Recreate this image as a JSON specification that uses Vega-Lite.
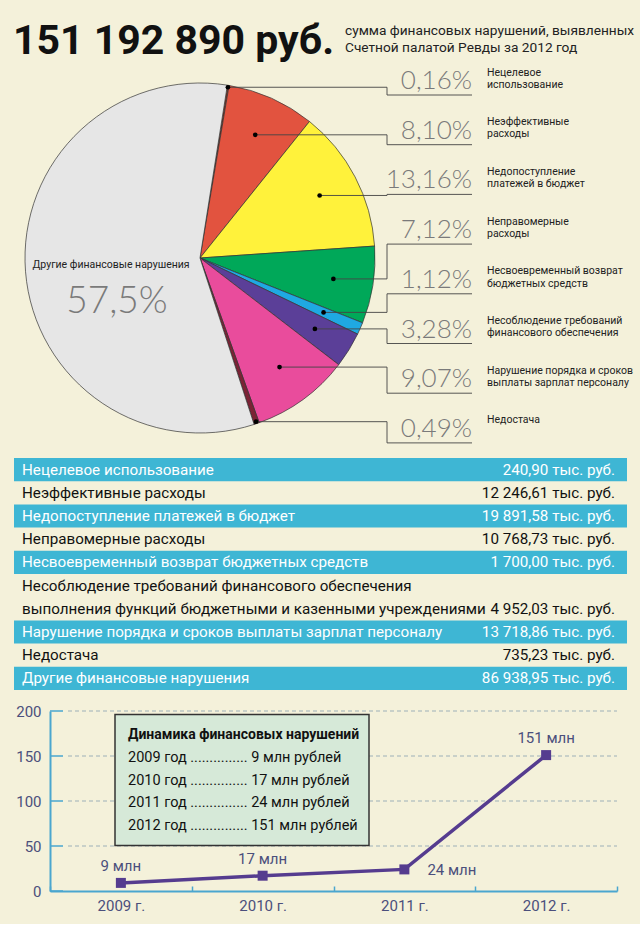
{
  "$schema": "https://vega.github.io/schema/vega-lite/v6.json",
  "background": "#f4f1da",
  "padding": {"left": 0, "top": 0, "right": 0, "bottom": 11},
  "spacing": 14,
  "config": {
    "view": {"stroke": null},
    "font": "Roboto",
    "locale": {"number": {"decimal": ",", "thousands": " ", "grouping": [3], "currency": ["", " тыс. руб."]}}
  },
  "datasets": {
    "viol": [
      {"idx": 1, "name": "Нецелевое использование", "short": "Нецелевое\nиспользование", "value": 240.90},
      {"idx": 2, "name": "Неэффективные расходы", "short": "Неэффективные\nрасходы", "value": 12246.61},
      {"idx": 3, "name": "Недопоступление платежей в бюджет", "short": "Недопоступление\nплатежей в бюджет", "value": 19891.58},
      {"idx": 4, "name": "Неправомерные расходы", "short": "Неправомерные\nрасходы", "value": 10768.73},
      {"idx": 5, "name": "Несвоевременный возврат бюджетных средств", "short": "Несвоевременный возврат\nбюджетных средств", "value": 1700.00},
      {"idx": 6, "name": "Несоблюдение требований финансового обеспечения\nвыполнения функций бюджетными и казенными учреждениями", "short": "Несоблюдение требований\nфинансового обеспечения", "value": 4952.03},
      {"idx": 7, "name": "Нарушение порядка и сроков выплаты зарплат персоналу", "short": "Нарушение порядка и сроков\nвыплаты зарплат персоналу", "value": 13718.86},
      {"idx": 8, "name": "Недостача", "short": "Недостача", "value": 735.23},
      {"idx": 9, "name": "Другие финансовые нарушения", "short": "Другие финансовые нарушения", "value": 86938.95}
    ],
    "dyn": [
      {"year": 2009, "v": 9},
      {"year": 2010, "v": 17},
      {"year": 2011, "v": 24},
      {"year": 2012, "v": 151}
    ]
  },
  "vconcat": [
    {
      "width": 640,
      "height": 444,
      "data": {"name": "viol"},
      "transform": [
        {"joinaggregate": [{"op": "sum", "field": "value", "as": "total"}]},
        {"window": [{"op": "sum", "field": "value", "as": "cum"}], "sort": [{"field": "idx"}], "frame": [null, 0]},
        {"calculate": "datum.value / datum.total", "as": "share"},
        {"calculate": "0.157 + 2 * PI * (datum.cum - datum.value / 2) / datum.total", "as": "ang"},
        {"calculate": "datum.share < 0.01 ? 173 : 135", "as": "r"},
        {"calculate": "200 + datum.r * sin(datum.ang)", "as": "dotx"},
        {"calculate": "258 - datum.r * cos(datum.ang)", "as": "doty"},
        {"calculate": "95 + (datum.idx - 1) * 49.7", "as": "ly"}
      ],
      "layer": [
        {
          "transform": [{"filter": "datum.idx == 1"}, {"calculate": "format(datum.total * 1000, ',.0f') + ' руб.'", "as": "hdr"}],
          "mark": {"type": "text", "align": "left", "baseline": "alphabetic", "font": "Roboto", "fontWeight": "bold", "fontSize": 41, "color": "#111111"},
          "encoding": {"x": {"value": 13}, "y": {"value": 54}, "text": {"field": "hdr"}}
        },
        {
          "transform": [{"filter": "datum.idx == 1"}],
          "mark": {"type": "text", "align": "left", "baseline": "alphabetic", "fontSize": 13.7, "lineHeight": 17, "color": "#222222", "text": ["сумма финансовых нарушений, выявленных", "Счетной палатой Ревды за 2012 год"]},
          "encoding": {"x": {"value": 345}, "y": {"value": 35}}
        },
        {
          "mark": {"type": "arc", "x": 200, "y": 258, "outerRadius": 175, "stroke": "#333333", "strokeWidth": 0.7},
          "encoding": {
            "theta": {"field": "value", "type": "quantitative", "stack": true, "scale": {"range": [0.157, 6.4402], "nice": false}},
            "order": {"field": "idx", "type": "quantitative"},
            "color": {"field": "idx", "type": "ordinal", "legend": null, "scale": {"domain": [1, 2, 3, 4, 5, 6, 7, 8, 9], "range": ["#8b3325", "#e2533f", "#fff23b", "#00a859", "#1fa9e2", "#5b3f98", "#e94c9c", "#7b2335", "#e6e6e6"]}}
          }
        },
        {
          "transform": [{"filter": "datum.idx <= 8"}],
          "mark": {"type": "rule", "color": "#444444", "strokeWidth": 0.9},
          "encoding": {"x": {"field": "dotx", "type": "quantitative", "scale": null}, "x2": {"value": 387}, "y": {"field": "doty", "type": "quantitative", "scale": null}}
        },
        {
          "transform": [{"filter": "datum.idx <= 8"}],
          "mark": {"type": "rule", "color": "#444444", "strokeWidth": 0.9},
          "encoding": {"x": {"value": 387}, "y": {"field": "doty", "type": "quantitative", "scale": null}, "y2": {"field": "ly"}}
        },
        {
          "transform": [{"filter": "datum.idx <= 8"}],
          "mark": {"type": "rule", "color": "#444444", "strokeWidth": 0.9},
          "encoding": {"x": {"value": 387}, "x2": {"value": 472}, "y": {"field": "ly", "type": "quantitative", "scale": null}}
        },
        {
          "transform": [{"filter": "datum.idx <= 8"}],
          "mark": {"type": "circle", "size": 22, "color": "#000000", "opacity": 1},
          "encoding": {"x": {"field": "dotx", "type": "quantitative", "scale": null}, "y": {"field": "doty", "type": "quantitative", "scale": null}}
        },
        {
          "transform": [{"filter": "datum.idx <= 8"}, {"calculate": "format(datum.share, '.2%')", "as": "ptxt"}],
          "mark": {"type": "text", "align": "right", "baseline": "alphabetic", "font": "Lato", "fontWeight": 300, "fontSize": 26, "color": "#7a7a7a", "dy": -6},
          "encoding": {"x": {"value": 472}, "y": {"field": "ly", "type": "quantitative", "scale": null}, "text": {"field": "ptxt"}}
        },
        {
          "transform": [{"filter": "datum.idx <= 8"}],
          "mark": {"type": "text", "align": "left", "baseline": "alphabetic", "fontSize": 10.5, "lineHeight": 12.3, "lineBreak": "\n", "color": "#222222", "dy": -19.5},
          "encoding": {"x": {"value": 487}, "y": {"field": "ly", "type": "quantitative", "scale": null}, "text": {"field": "short"}}
        },
        {
          "transform": [{"filter": "datum.idx == 9"}],
          "mark": {"type": "text", "align": "center", "baseline": "alphabetic", "fontSize": 10.5, "color": "#222222"},
          "encoding": {"x": {"value": 111}, "y": {"value": 268}, "text": {"field": "name"}}
        },
        {
          "transform": [{"filter": "datum.idx == 9"}, {"calculate": "format(datum.share, '.1%')", "as": "ptxt"}],
          "mark": {"type": "text", "align": "center", "baseline": "alphabetic", "font": "Lato", "fontWeight": 300, "fontSize": 37, "color": "#7a7a7a"},
          "encoding": {"x": {"value": 117}, "y": {"value": 313}, "text": {"field": "ptxt"}}
        }
      ]
    },
    {
      "width": 640,
      "height": 232,
      "data": {"name": "viol"},
      "transform": [
        {"calculate": "length(split(datum.name, '\\n'))", "as": "lines"},
        {"window": [{"op": "sum", "field": "lines", "as": "lend"}], "sort": [{"field": "idx"}], "frame": [null, 0]},
        {"calculate": "datum.lend - datum.lines", "as": "lstart"},
        {"calculate": "datum.lstart + 0.5", "as": "first"},
        {"calculate": "datum.lend - 0.5", "as": "vline"}
      ],
      "layer": [
        {
          "transform": [{"filter": "datum.idx % 2 == 1"}],
          "mark": {"type": "rect", "color": "#3eb6d4"},
          "encoding": {
            "x": {"value": 14}, "x2": {"value": 627},
            "y": {"field": "lstart", "type": "quantitative", "scale": {"domain": [0, 10], "range": [0, 232], "nice": false, "zero": false}, "axis": null},
            "y2": {"field": "lend"}
          }
        },
        {
          "mark": {"type": "text", "align": "left", "baseline": "middle", "fontSize": 15.2, "lineHeight": 23.2, "lineBreak": "\n"},
          "encoding": {
            "x": {"value": 22},
            "y": {"field": "first", "type": "quantitative", "axis": null},
            "text": {"field": "name"},
            "color": {"condition": {"test": "datum.idx % 2 == 1", "value": "#ffffff"}, "value": "#111111"}
          }
        },
        {
          "mark": {"type": "text", "align": "right", "baseline": "middle", "fontSize": 15.2},
          "encoding": {
            "x": {"value": 615},
            "y": {"field": "vline", "type": "quantitative", "axis": null},
            "text": {"field": "value", "type": "quantitative", "format": "$,.2f"},
            "color": {"condition": {"test": "datum.idx % 2 == 1", "value": "#ffffff"}, "value": "#111111"}
          }
        }
      ]
    },
    {
      "width": 640,
      "height": 180,
      "data": {"name": "dyn"},
      "layer": [
        {
          "layer": [
            {
              "data": {"values": [{"t": 50}, {"t": 100}, {"t": 150}, {"t": 200}]},
              "mark": {"type": "rule", "color": "#9db0b8", "strokeWidth": 1, "strokeDash": [4, 3]},
              "encoding": {"x": {"value": 68}, "x2": {"value": 617}, "y": {"field": "t", "type": "quantitative"}}
            },
            {
              "transform": [{"filter": "datum.year == 2009"}],
              "mark": {"type": "rect", "fill": "#d6e9d8", "stroke": "#333333", "strokeWidth": 1.5},
              "encoding": {"x": {"value": 115}, "x2": {"value": 369}, "y": {"datum": 196, "type": "quantitative"}, "y2": {"datum": 50.6}}
            },
            {
              "data": {"values": [{"t": 0}, {"t": 50}, {"t": 100}, {"t": 150}, {"t": 200}]},
              "mark": {"type": "rule", "color": "#4aa6cf", "strokeWidth": 1.5},
              "encoding": {"x": {"value": 50}, "x2": {"value": 63}, "y": {"field": "t", "type": "quantitative"}}
            },
            {
              "mark": {"type": "line", "color": "#553c8f", "strokeWidth": 3.5},
              "encoding": {
                "x": {"field": "year", "type": "ordinal", "scale": {"type": "band", "paddingInner": 0, "paddingOuter": 0, "range": [50, 617]},
                  "axis": {"title": null, "tickBand": "extent", "labelAngle": 0, "labelExpr": "datum.label ? datum.label + ' г.' : ''", "domainColor": "#4aa6cf", "domainWidth": 2, "tickColor": "#4aa6cf", "tickWidth": 1.5, "tickSize": -5, "labelColor": "#4b4f7c", "labelFontSize": 15, "labelFont": "Roboto", "labelPadding": 12}},
                "y": {"field": "v", "type": "quantitative", "scale": {"domain": [0, 200], "nice": false},
                  "axis": {"title": null, "offset": -50, "values": [0, 50, 100, 150, 200], "ticks": false, "grid": false, "domainColor": "#4aa6cf", "domainWidth": 2, "labelColor": "#4b4f7c", "labelFontSize": 15, "labelFont": "Roboto", "labelPadding": 9}}
              }
            },
            {
              "mark": {"type": "square", "size": 100, "color": "#553c8f", "opacity": 1, "filled": true},
              "encoding": {"x": {"field": "year", "type": "ordinal"}, "y": {"field": "v", "type": "quantitative"}}
            },
            {
              "transform": [{"filter": "datum.year != 2011"}, {"calculate": "datum.v + ' млн'", "as": "lab"}],
              "mark": {"type": "text", "dy": -12, "baseline": "alphabetic", "fontSize": 15, "color": "#4b4f7c"},
              "encoding": {"x": {"field": "year", "type": "ordinal"}, "y": {"field": "v", "type": "quantitative"}, "text": {"field": "lab"}}
            },
            {
              "transform": [{"filter": "datum.year == 2011"}, {"calculate": "datum.v + ' млн'", "as": "lab"}],
              "mark": {"type": "text", "dx": 23, "dy": 6, "align": "left", "baseline": "alphabetic", "fontSize": 15, "color": "#4b4f7c"},
              "encoding": {"x": {"field": "year", "type": "ordinal"}, "y": {"field": "v", "type": "quantitative"}, "text": {"field": "lab"}}
            }
          ]
        },
        {
          "transform": [{"calculate": "datum.year + ' год ............... ' + datum.v + ' млн рублей'", "as": "bl"}],
          "mark": {"type": "text", "align": "left", "baseline": "alphabetic", "fontSize": 14.5, "color": "#111111"},
          "encoding": {"x": {"value": 128}, "y": {"field": "year", "type": "ordinal", "scale": {"type": "point", "range": [51, 119], "padding": 0}, "axis": null}, "text": {"field": "bl"}}
        },
        {
          "transform": [{"filter": "datum.year == 2009"}],
          "mark": {"type": "text", "align": "left", "baseline": "alphabetic", "fontSize": 14, "fontWeight": "bold", "color": "#111111", "text": "Динамика финансовых нарушений"},
          "encoding": {"x": {"value": 128}, "y": {"value": 28}}
        }
      ],
      "resolve": {"scale": {"y": "independent"}}
    }
  ]
}
